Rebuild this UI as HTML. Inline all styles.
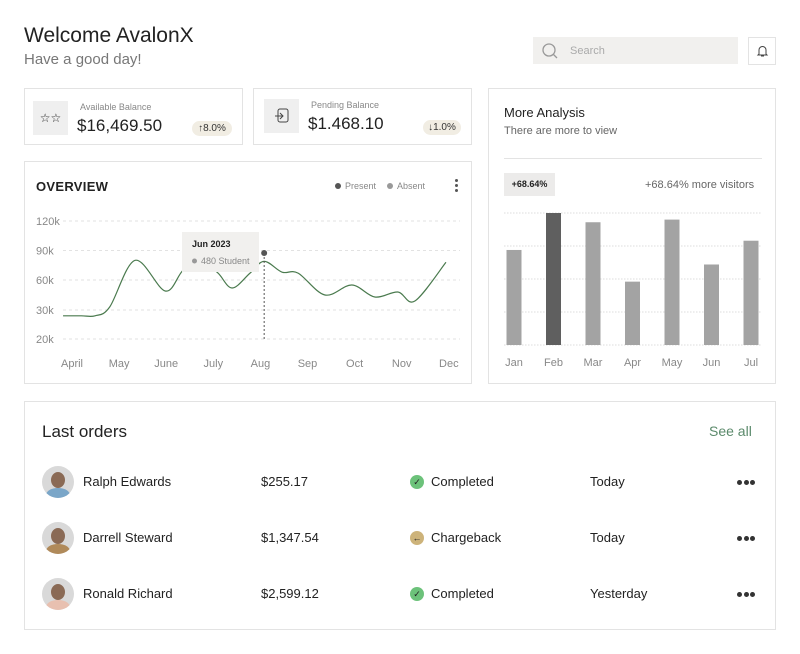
<!DOCTYPE html>
<html><head><meta charset="utf-8"><style>
*{box-sizing:border-box;margin:0;padding:0}
body{width:800px;height:654px;background:#fff;font-family:"Liberation Sans",sans-serif;color:#222;position:relative;overflow:hidden}
.a{position:absolute}
.card{position:absolute;border:1px solid #e3e3e3;background:#fff}
.ico{position:absolute;background:#efefef}
.pill{position:absolute;background:#f1ede3;border-radius:9px;font-size:10px;color:#333;text-align:center;line-height:15px}
.av{position:absolute;width:32px;height:32px;border-radius:50%;background:#ddd;overflow:hidden}
.dots{position:absolute;display:flex;gap:1.5px}
.dots i{display:block;width:5px;height:5px;border-radius:50%;background:#333}
</style></head><body>
<div class="a" style="left:24px;top:24px;font-size:21px;color:#222">Welcome AvalonX</div>
<div class="a" style="left:24px;top:51px;font-size:15px;color:#777">Have a good day!</div>
<div class="a" style="left:533px;top:37px;width:205px;height:27px;background:#f1f0ee">
<svg class="a" style="left:8px;top:5px" width="18" height="18"><circle cx="8" cy="8" r="6" fill="none" stroke="#999" stroke-width="1.3"/><line x1="12.5" y1="12.5" x2="16" y2="16" stroke="#999" stroke-width="1.3"/></svg>
<span class="a" style="left:37px;top:8px;font-size:11px;color:#aaa">Search</span></div>
<div class="card" style="left:748px;top:37px;width:28px;height:28px">
<svg class="a" style="left:7px;top:6px" width="13" height="14"><path d="M3 10V6a3.5 3.5 0 0 1 7 0v4l1 1H2z M5 12h3" fill="none" stroke="#444" stroke-width="1"/></svg></div>

<div class="card" style="left:24px;top:88px;width:219px;height:57px">
<div class="ico" style="left:8px;top:12px;width:35px;height:34px;text-align:center;line-height:34px;font-size:12px">☆☆</div>
<div class="a" style="left:55px;top:13px;font-size:9px;color:#888">Available Balance</div>
<div class="a" style="left:52px;top:27px;font-size:17px;color:#222">$16,469.50</div>
<div class="pill" style="left:167px;top:32px;width:40px">↑8.0%</div></div>
<div class="card" style="left:253px;top:88px;width:219px;height:57px">
<div class="ico" style="left:10px;top:10px;width:35px;height:34px"><svg class="a" style="left:10px;top:9px" width="16" height="16"><rect x="4" y="1" width="10" height="13" rx="2" fill="none" stroke="#444"/><path d="M1 8h8M6 5l3 3-3 3" fill="none" stroke="#444"/></svg></div>
<div class="a" style="left:57px;top:11px;font-size:9px;color:#888">Pending Balance</div>
<div class="a" style="left:54px;top:25px;font-size:17px;color:#222">$1.468.10</div>
<div class="pill" style="left:169px;top:31px;width:38px">↓1.0%</div></div>

<div class="card" style="left:24px;top:161px;width:448px;height:223px"></div>
<div class="a" style="left:36px;top:179px;font-size:13px;font-weight:bold;letter-spacing:.3px">OVERVIEW</div>
<div class="a" style="left:335px;top:181px;font-size:9px;color:#888"><span style="display:inline-block;width:6px;height:6px;border-radius:50%;background:#555;margin-right:4px"></span>Present</div>
<div class="a" style="left:387px;top:181px;font-size:9px;color:#888"><span style="display:inline-block;width:6px;height:6px;border-radius:50%;background:#999;margin-right:4px"></span>Absent</div>
<div class="a" style="left:455px;top:179px;width:3px"><div style="width:3px;height:3px;background:#555;border-radius:50%;margin-bottom:2px"></div><div style="width:3px;height:3px;background:#555;border-radius:50%;margin-bottom:2px"></div><div style="width:3px;height:3px;background:#555;border-radius:50%"></div></div>
<svg id="line" class="a" style="left:0;top:0" width="800" height="654"></svg>

<div class="card" style="left:488px;top:88px;width:288px;height:296px"></div>
<div class="a" style="left:504px;top:105px;font-size:13px">More Analysis</div>
<div class="a" style="left:504px;top:125px;font-size:11px;color:#666">There are more to view</div>
<div class="a" style="left:504px;top:158px;width:258px;height:1px;background:#e3e3e3"></div>
<div class="a" style="left:504px;top:173px;width:51px;height:23px;background:#ecebea;font-size:9px;font-weight:bold;line-height:23px;text-align:center">+68.64%</div>
<div class="a" style="left:645px;top:179px;font-size:11px;color:#666">+68.64% more visitors</div>
<svg id="bar" class="a" style="left:0;top:0" width="800" height="654"></svg>

<div class="card" style="left:24px;top:401px;width:752px;height:229px"></div>
<div class="a" style="left:42px;top:422px;font-size:17px">Last orders</div>
<div class="a" style="left:709px;top:423px;font-size:14px;color:#5b8a6b">See all</div>
<div id="rows"></div>

<script>
// Line chart data
const months=["April","May","June","July","Aug","Sep","Oct","Nov","Dec"];
const yTicks=["120k","90k","60k","30k","20k"];
const yTickVals=[120,90,60,30,20];
const linePos=[-0.19,0.2,0.49,0.8,1.34,1.98,2.36,2.75,3.1,3.4,3.78,4.08,4.46,4.8,5.37,5.94,6.43,6.92,7.28,7.94];
const lineVals=[28,28,28,33,80,49,70,80,67,52,67,79,68,67,45,55,43,48,39,78];
// Bar chart data
const barCats=["Jan","Feb","Mar","Apr","May","Jun","Jul"];
const barVals=[72,100,93,48,95,61,79];
const highlightIndex=1;

const NS="http://www.w3.org/2000/svg";
function mk(p,t,a){const e=document.createElementNS(NS,t);for(const k in a)e.setAttribute(k,a[k]);p.appendChild(e);return e;}
const L=document.getElementById('line');
const xS=i=>72+i*47.1;
const tickY=[221,250.5,280,310,339];
function yS(v){for(let k=0;k<yTickVals.length-1;k++){const a=yTickVals[k],b=yTickVals[k+1];if(v<=a&&v>=b)return tickY[k]+(a-v)/(a-b)*(tickY[k+1]-tickY[k]);}return v>120?221-(v-120):339+(20-v)*2.9;}
yTicks.forEach((t,k)=>{
 const y=yS(yTickVals[k]);
 const g=mk(L,'line',{x1:63,x2:460,y1:y,y2:y,stroke:'#e2e2e2','stroke-dasharray':'3 3'});
 
 
 const tx=mk(L,'text',{x:36,y:y+4,'font-size':11,fill:'#888','font-family':'Liberation Sans'});tx.textContent=t;
 
 
});
months.forEach((m,i)=>{const tx=mk(L,'text',{x:xS(i),y:367,'font-size':11,fill:'#888','text-anchor':'middle','font-family':'Liberation Sans'});tx.textContent=m;
 
 });
const pts=linePos.map((p,i)=>[xS(p),yS(lineVals[i])]);
let d='M'+pts[0][0]+','+pts[0][1];
for(let i=0;i<pts.length-1;i++){const p0=pts[i-1]||pts[i],p1=pts[i],p2=pts[i+1],p3=pts[i+2]||p2;
 d+=` C${p1[0]+(p2[0]-p0[0])/6},${p1[1]+(p2[1]-p0[1])/6} ${p2[0]-(p3[0]-p1[0])/6},${p2[1]-(p3[1]-p1[1])/6} ${p2[0]},${p2[1]}`;}
const path=mk(L,'path',{d:d,fill:'none',stroke:'#4a7a4e','stroke-width':1.2});


const hx=xS(4.08);
mk(L,'line',{x1:hx,x2:hx,y1:253,y2:341,stroke:'#555','stroke-dasharray':'2 2'});
const hp=mk(L,'circle',{cx:hx,cy:253,r:3,fill:'#555'});


const tg=mk(L,'g',{});


mk(tg,'rect',{x:182,y:232,width:77,height:40,fill:'#f1f0ee'});
const t1=mk(tg,'text',{x:192,y:247,'font-size':9,'font-weight':'bold',fill:'#222','font-family':'Liberation Sans'});t1.textContent='Jun 2023';
mk(tg,'circle',{cx:194.5,cy:261,r:2.5,fill:'#999'});
const t2=mk(tg,'text',{x:201,y:264,'font-size':9,fill:'#888','font-family':'Liberation Sans'});t2.textContent='480 Student';

const B=document.getElementById('bar');
const baseY=345,topY=213,bx=i=>514+i*39.5,bh=v=>v/100*(baseY-topY);
for(let k=0;k<5;k++){const y=topY+k*33;mk(B,'line',{x1:504,x2:762,y1:y,y2:y,stroke:'#ddd','stroke-dasharray':'1.5 1.5'});}
barCats.forEach((c,i)=>{
 const r=mk(B,'rect',{x:bx(i)-7.5,y:baseY-bh(barVals[i]),width:15,height:bh(barVals[i]),fill:i===highlightIndex?'#5f5f5f':'#a3a3a3'});
 
 
 const tx=mk(B,'text',{x:bx(i),y:366,'font-size':11,fill:'#888','text-anchor':'middle','font-family':'Liberation Sans'});tx.textContent=c;
 
 
});

const rows=[["Ralph Edwards","$255.17","Completed","Today","#6cc27a","✓","#7aa6c8"],["Darrell Steward","$1,347.54","Chargeback","Today","#cdb37a","←","#b08a5a"],["Ronald Richard","$2,599.12","Completed","Yesterday","#6cc27a","✓","#e8c0b0"]];
const R=document.getElementById('rows');
rows.forEach((r,i)=>{const y=482+i*56;
 const div=document.createElement('div');
 
 
 div.innerHTML=`<div class="av" style="left:42px;top:${y-16}px;background:#d9d9d9"><div style="position:absolute;left:9px;top:6px;width:14px;height:16px;border-radius:50%;background:#8a6a55"></div><div style="position:absolute;left:4px;top:22px;width:24px;height:14px;border-radius:50%;background:${r[6]}"></div></div>
 <div class="a" style="left:83px;top:${y-8}px;font-size:13px">${r[0]}</div>
 <div class="a" style="left:261px;top:${y-8}px;font-size:13px">${r[1]}</div>
 <div class="a" style="left:410px;top:${y-7}px;width:14px;height:14px;border-radius:50%;background:${r[4]};font-size:9px;text-align:center;line-height:14px">${r[5]}</div>
 <div class="a" style="left:431px;top:${y-8}px;font-size:13px">${r[2]}</div>
 <div class="a" style="left:590px;top:${y-8}px;font-size:13px">${r[3]}</div>
 <div class="dots" style="left:737px;top:${y-2}px"><i></i><i></i><i></i></div>`;
 R.appendChild(div);});
</script>
</body></html>
